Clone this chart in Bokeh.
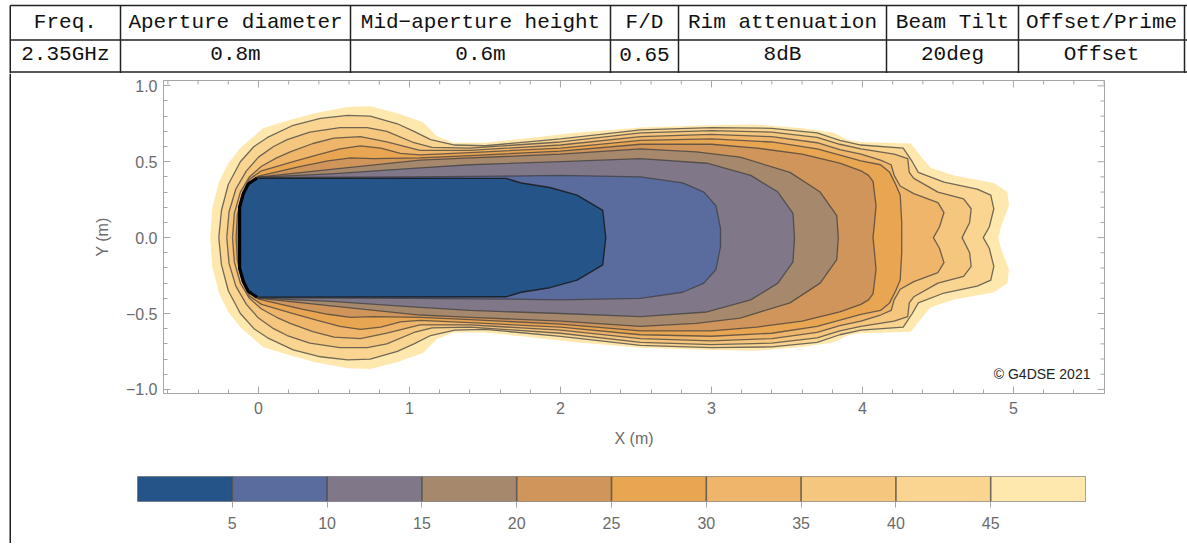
from bokeh.plotting import figure
from bokeh.models import Range1d, LinearAxis, FixedTicker
from bokeh.layouts import column, row
from bokeh.embed import file_html
from bokeh.resources import INLINE
from bokeh.core.properties import value

# ---------------- data ----------------
TABLE_HEADERS = ["Freq.", "Aperture diameter", "Mid\u2212aperture height", "F/D",
                 "Rim attenuation", "Beam Tilt", "Offset/Prime"]
TABLE_VALUES = ["2.35GHz", "0.8m", "0.6m", "0.65", "8dB", "20deg", "Offset"]

LEVELS = [5, 10, 15, 20, 25, 30, 35, 40, 45, 50]
LEVEL_COLORS = ["#255488", "#5a6b9d", "#807889", "#a6896c", "#d0955a",
                "#e8a552", "#efb56b", "#f5c67e", "#fad591", "#fee8ae"]

# upper halves of the contour boundaries (lower half is the mirror image)
C05_X = [-0.125, -0.125, -0.10, -0.068, -0.01, 1.64, 1.74, 1.93, 2.11, 2.28, 2.30]
C05_Y = [0, 0.2, 0.29, 0.353, 0.393, 0.39, 0.36, 0.33, 0.28, 0.18, 0]

C10_X = [-0.127, -0.127, -0.102, -0.069, 0.0, 1.0, 1.6, 2.0, 2.53, 2.81, 2.95, 3.03, 3.06, 3.06]
C10_Y = [0, 0.2, 0.29, 0.3535, 0.397, 0.40, 0.405, 0.41, 0.40, 0.36, 0.30, 0.21, 0.06, 0]

C15_X = [-0.129, -0.128, -0.103, -0.07, 0.0, 0.48, 1.07, 1.4, 2.0, 2.53, 2.97, 3.26, 3.44, 3.54, 3.55]
C15_Y = [0, 0.2, 0.289, 0.354, 0.398, 0.42, 0.46, 0.48, 0.50, 0.52, 0.49, 0.41, 0.30, 0.16, 0]

C20_X = [-0.131, -0.13, -0.104, -0.071, -0.005, 0.48, 1.07, 1.4, 2.0, 2.53, 2.9, 3.19, 3.52, 3.72, 3.83, 3.84]
C20_Y = [0, 0.2, 0.288, 0.355, 0.399, 0.45, 0.51, 0.525, 0.55, 0.585, 0.565, 0.53, 0.43, 0.30, 0.145, 0]

C25_X = [-0.135, -0.132, -0.105, -0.07, 0.0, 0.28, 0.46, 0.61, 0.76, 1.07, 1.4, 2.0, 2.53, 3.0, 3.3,
         3.6, 3.85, 3.99, 4.04, 4.07, 4.09, 4.08, 4.07]
C25_Y = [0, 0.15, 0.28, 0.357, 0.405, 0.47, 0.505, 0.525, 0.52, 0.525, 0.54, 0.57, 0.615, 0.615, 0.59,
         0.55, 0.49, 0.44, 0.41, 0.37, 0.21, 0.10, 0]

C30_X = [-0.148, -0.14, -0.11, -0.06, 0.02, 0.23, 0.39, 0.54, 0.675, 0.81, 0.94, 1.07, 1.4, 2.0, 2.53,
         3.0, 3.4, 3.7, 3.9, 3.99, 4.12, 4.18, 4.22, 4.25, 4.26, 4.26]
C30_Y = [0, 0.15, 0.28, 0.385, 0.44, 0.50, 0.545, 0.585, 0.605, 0.59, 0.555, 0.545, 0.56, 0.59, 0.64,
         0.65, 0.63, 0.585, 0.53, 0.505, 0.48, 0.43, 0.35, 0.28, 0.10, 0]

C35_X = [-0.172, -0.16, -0.12, -0.06, 0.02, 0.12, 0.21, 0.36, 0.50, 0.675, 0.85, 1.07, 1.4, 2.0, 2.53,
         3.0, 3.4, 3.7, 3.85, 3.99, 4.12, 4.19, 4.21, 4.25, 4.34, 4.50, 4.54, 4.51, 4.47]
C35_Y = [0, 0.16, 0.30, 0.40, 0.47, 0.525, 0.565, 0.62, 0.655, 0.665, 0.63, 0.575, 0.575, 0.61, 0.665,
         0.68, 0.665, 0.625, 0.58, 0.55, 0.51, 0.48, 0.41, 0.34, 0.29, 0.23, 0.165, 0.07, 0]

C40_X = [-0.21, -0.195, -0.15, -0.08, 0.0, 0.10, 0.19, 0.34, 0.54, 0.72, 0.85, 1.03, 1.15, 1.4, 2.0,
         2.53, 3.0, 3.4, 3.7, 3.85, 3.99, 4.21, 4.30, 4.31, 4.34, 4.50, 4.67, 4.72, 4.71, 4.66]
C40_Y = [0, 0.17, 0.32, 0.44, 0.53, 0.60, 0.645, 0.695, 0.725, 0.725, 0.70, 0.625, 0.595, 0.59, 0.63,
         0.69, 0.705, 0.695, 0.66, 0.615, 0.585, 0.55, 0.52, 0.43, 0.39, 0.30, 0.255, 0.19, 0.10, 0]

C45_X = [-0.263, -0.245, -0.20, -0.12, -0.03, 0.06, 0.23, 0.41, 0.59, 0.74, 0.92, 1.03, 1.14, 1.3,
         1.5, 2.0, 2.53, 3.0, 3.4, 3.7, 3.85, 3.99, 4.27, 4.33, 4.37, 4.54, 4.76, 4.85, 4.87, 4.84, 4.80]
C45_Y = [0, 0.18, 0.35, 0.50, 0.60, 0.66, 0.74, 0.785, 0.805, 0.80, 0.75, 0.70, 0.645, 0.61,
         0.605, 0.65, 0.71, 0.725, 0.72, 0.69, 0.64, 0.61, 0.59, 0.50, 0.43, 0.365, 0.32, 0.28, 0.19, 0.07, 0]

C50_X = [-0.32, -0.305, -0.26, -0.20, -0.12, 0.03, 0.19, 0.37, 0.59, 0.74, 0.92, 1.09, 1.18, 1.29,
         1.5, 1.74, 2.1, 2.53, 3.0, 3.3, 3.6, 3.81, 3.90, 3.99, 4.32, 4.40, 4.45, 4.60, 4.87, 4.96,
         4.97, 4.92, 4.90]
C50_Y = [0, 0.2, 0.37, 0.49, 0.59, 0.72, 0.77, 0.82, 0.86, 0.865, 0.82, 0.76, 0.67, 0.625,
         0.625, 0.65, 0.69, 0.725, 0.74, 0.745, 0.72, 0.69, 0.645, 0.63, 0.62, 0.52, 0.46, 0.41, 0.36, 0.30,
         0.21, 0.08, 0]

X_TICKS = [0, 1, 2, 3, 4, 5]
Y_TICKS = [-1.0, -0.5, 0.0, 0.5, 1.0]
Y_TICK_LABELS = ["\u22121.0", "\u22120.5", "0.0", "0.5", "1.0"]
CB_TICKS = [5, 10, 15, 20, 25, 30, 35, 40, 45]
COPYRIGHT = "\u00a9 G4DSE 2021"

CONTOURS = [(C05_X, C05_Y), (C10_X, C10_Y), (C15_X, C15_Y), (C20_X, C20_Y), (C25_X, C25_Y),
            (C30_X, C30_Y), (C35_X, C35_Y), (C40_X, C40_Y), (C45_X, C45_Y), (C50_X, C50_Y)]


def closed(xs, ys):
    return list(xs) + list(xs[::-1]), list(ys) + [-v for v in ys[::-1]]


W = 1187
EDGE_W = 12
GRAY_TXT = "#6b6b6b"
GRAY_AX = "#a6a6a6"
LINE_DARK = "#222222"


def bare(width, height, xr, yr, **kw):
    return figure(width=width, height=height, x_range=xr, y_range=yr, toolbar_location=None,
                  output_backend="svg", x_axis_type=None, y_axis_type=None, title=None, **kw)


# ---------------- table (screen-pixel coordinates) ----------------
TAB_H = 73
tab = bare(W, TAB_H, Range1d(0, W), Range1d(TAB_H, 0), min_border=0, outline_line_color=None)
COL_EDGES = [9.75, 120, 350, 610, 678, 886, 1018, 1184]
for yy in [5, 39.5, 71.5]:
    tab.segment(x0=[9.75], x1=[W], y0=[yy], y1=[yy], line_color=LINE_DARK, line_width=1.5)
for xx in COL_EDGES:
    tab.segment(x0=[xx], x1=[xx], y0=[5], y1=[TAB_H], line_color=LINE_DARK, line_width=1.5)
centers = [(COL_EDGES[i] + COL_EDGES[i + 1]) / 2 for i in range(len(TABLE_HEADERS))]
tab.text(x=centers, y=[21.5] * len(centers), text=TABLE_HEADERS, text_align="center",
         text_baseline="middle", text_font=value("Liberation Mono"), text_font_size="21px",
         text_color="#111111")
tab.text(x=centers, y=[54] * len(centers), text=TABLE_VALUES, text_align="center",
         text_baseline="middle", text_font=value("Liberation Mono"), text_font_size="21px",
         text_color="#111111")

# ---------------- left border strip spanning plot + colour bar ----------------
MAIN_H = 385
CB_H = 85
edge = bare(EDGE_W, MAIN_H + CB_H, Range1d(0, EDGE_W), Range1d(0, 1), min_border=0,
            outline_line_color=None)
edge.segment(x0=[9.75], x1=[9.75], y0=[0], y1=[1], line_color=LINE_DARK, line_width=1.5)

# ---------------- contour plot ----------------
XR = Range1d(-0.629, 5.603)
YR = Range1d(-1.027, 1.035)
main = bare(W - EDGE_W, MAIN_H, XR, YR,
            min_border_left=163 - EDGE_W, min_border_right=W - 1104, min_border_top=80 - TAB_H,
            min_border_bottom=TAB_H + MAIN_H - 393, outline_line_color=GRAY_AX, outline_line_width=1)

for (cx, cy), col in reversed(list(zip(CONTOURS, LEVEL_COLORS))):
    px, py = closed(cx, cy)
    main.patch(px, py, fill_color=col, line_color=None)

for i, (cx, cy) in enumerate(CONTOURS[:-1]):
    px, py = closed(cx, cy)
    px.append(px[0]); py.append(py[0])
    if i == 0:
        main.line(px, py, line_color="#1a1a1a", line_alpha=0.85, line_width=1.4, line_join="round")
    else:
        main.line(px, py, line_color="#3c3c3c", line_alpha=0.72, line_width=1.3, line_join="round")

# heavy black rim on the left side of the inner region
lx = [x for x in C05_X if x <= 0.0]
ly = C05_Y[:len(lx)]
rx = lx[::-1] + lx[1:]
ry = ly[::-1] + [-v for v in ly[1:]]
main.line(rx, ry, line_color="#000000", line_width=3.2, line_join="round")

main.text(x=[5.51], y=[-0.896], text=[COPYRIGHT], text_align="right", text_baseline="middle",
          text_font=value("Liberation Sans"), text_font_size="14px", text_color="#222222")

minor_x = [round(-0.6 + 0.2 * k, 2) for k in range(32)]
minor_y = [round(-1.0 + 0.1 * k, 2) for k in range(21)]

# inward ticks on the top and right frame edges
px_x = (XR.end - XR.start) / (1104 - 163)
px_y = (YR.end - YR.start) / (393 - 80)
main.segment(x0=X_TICKS, x1=X_TICKS, y0=[YR.end] * 6, y1=[YR.end - 7 * px_y] * 6,
             line_color=GRAY_AX, line_width=1)
mx = [m for m in minor_x if m not in X_TICKS]
main.segment(x0=mx, x1=mx, y0=[YR.end] * len(mx), y1=[YR.end - 4 * px_y] * len(mx),
             line_color=GRAY_AX, line_width=1)
main.segment(x0=[XR.end] * 5, x1=[XR.end - 7 * px_x] * 5, y0=Y_TICKS, y1=Y_TICKS,
             line_color=GRAY_AX, line_width=1)
my = [m for m in minor_y if m not in Y_TICKS]
main.segment(x0=[XR.end] * len(my), x1=[XR.end - 4 * px_x] * len(my), y0=my, y1=my,
             line_color=GRAY_AX, line_width=1)


def style_axis(ax):
    ax.axis_line_color = GRAY_AX
    ax.major_tick_line_color = GRAY_AX
    ax.minor_tick_line_color = GRAY_AX
    ax.major_tick_in = 7
    ax.major_tick_out = 0
    ax.minor_tick_in = 4
    ax.minor_tick_out = 0
    ax.major_label_text_color = GRAY_TXT
    ax.major_label_text_font = "Liberation Sans"
    ax.major_label_text_font_size = "16px"
    ax.major_label_standoff = 6
    ax.axis_label_text_color = GRAY_TXT
    ax.axis_label_text_font = "Liberation Sans"
    ax.axis_label_text_font_size = "16px"
    ax.axis_label_text_font_style = "normal"


xb = LinearAxis(ticker=FixedTicker(ticks=X_TICKS, minor_ticks=minor_x), axis_label="X (m)")
style_axis(xb)
xb.major_label_standoff = 8
xb.axis_label_standoff = 13
main.add_layout(xb, "below")

yl = LinearAxis(ticker=FixedTicker(ticks=Y_TICKS, minor_ticks=minor_y), axis_label="Y (m)")
style_axis(yl)
yl.major_label_overrides = {t: s for t, s in zip(Y_TICKS, Y_TICK_LABELS)}
yl.axis_label_standoff = 12
main.add_layout(yl, "left")

# ---------------- colour bar ----------------
CB_TOP = TAB_H + MAIN_H
cb = bare(W - EDGE_W, CB_H, Range1d(0, 50), Range1d(0, 1),
          min_border_left=137 - EDGE_W, min_border_right=W - 1085, min_border_top=476 - CB_TOP,
          min_border_bottom=CB_TOP + CB_H - 501, outline_line_color="#8c8c8c", outline_line_width=1)
cb_left = [0] + LEVELS[:-1]
cb.quad(left=cb_left, right=LEVELS, bottom=0, top=1, fill_color=LEVEL_COLORS, line_color=None)
cb.segment(x0=LEVELS[:-1], x1=LEVELS[:-1], y0=[0] * 9, y1=[1] * 9, line_color="#4a4a4a",
           line_alpha=0.8, line_width=1.6)
cba = LinearAxis(ticker=FixedTicker(ticks=CB_TICKS))
cba.axis_line_color = None
cba.major_tick_line_color = GRAY_AX
cba.major_tick_in = 0
cba.major_tick_out = 6
cba.minor_tick_line_color = None
cba.major_label_text_color = GRAY_TXT
cba.major_label_text_font = "Liberation Sans"
cba.major_label_text_font_size = "16px"
cba.major_label_standoff = 9
cb.add_layout(cba, "below")

layout = column(tab, row(edge, column(row(main), row(cb))))

open("out.html", "w").write(file_html(layout, INLINE))
